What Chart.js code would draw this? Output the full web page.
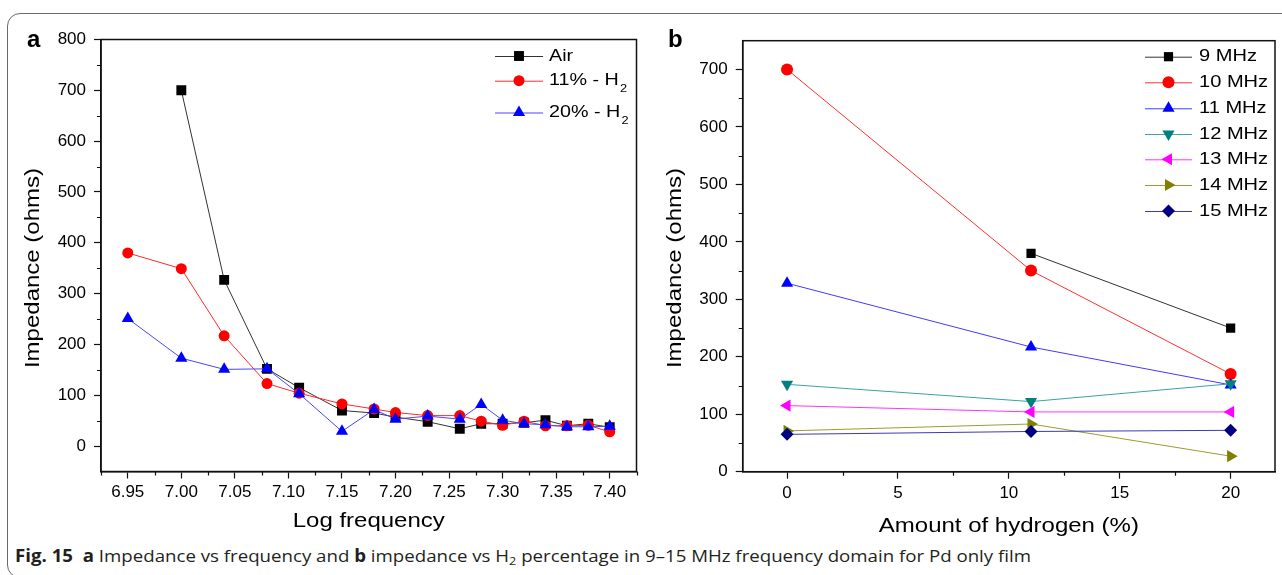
<!DOCTYPE html>
<html>
<head>
<meta charset="utf-8">
<script src="https://cdn.jsdelivr.net/npm/chart.js@4/dist/chart.umd.min.js"></script>
<style>
  html, body { margin:0; padding:0; background:#fff; }
  body { width:1282px; height:575px; overflow:hidden; position:relative; }
  #frame { position:absolute; left:7px; top:13px; width:1300px; height:565px; border:1px solid #6a6a6a; border-radius:13px; box-sizing:border-box; }
  #ca { position:absolute; left:0; top:0; }
  #cb { position:absolute; left:640px; top:0; }
  #cap { position:absolute; left:15px; top:546px; font-family:'Open Sans', 'Noto Sans', sans-serif; font-size:17px; line-height:20px; color:#231f20; white-space:nowrap; transform-origin:0 0; }
  #cap sub { font-size:11.5px; vertical-align:-3px; line-height:0; }
</style>
</head>
<body>
<div id="frame"></div>
<canvas id="ca" width="660" height="540"></canvas>
<canvas id="cb" width="642" height="540"></canvas>
<div id="cap"><b>Fig. 15</b>&nbsp; <b>a</b> Impedance vs frequency and <b>b</b> impedance vs H<sub>2</sub> percentage in 9–15 MHz frequency domain for Pd only film</div>
<script>
// ---------- Panel a data ----------
const aX       = [6.95, 7.00, 7.04, 7.08, 7.11, 7.15, 7.18, 7.20, 7.23, 7.26, 7.28, 7.30, 7.32, 7.34, 7.36, 7.38, 7.40];
const airY     = [null, 700, 327, 152, 115, 70, 65, 57, 48, 34, 44, 44, 46, 51, 40, 44, 37];
const h11Y     = [380, 349, 217, 123, 104, 83, 73, 66, 60, 60, 49, 41, 49, 40, 40, 41, 28];
const h20Y     = [251, 173, 151, 152, 103, 29, 72, 53, 59, 53, 82, 51, 44, 42, 38, 38, 39];
const aNames   = ['Air', '11% - H_2', '20% - H_2'];
const aXTicks  = [6.95, 7.00, 7.05, 7.10, 7.15, 7.20, 7.25, 7.30, 7.35, 7.40];
const aXLabels = ['6.95', '7.00', '7.05', '7.10', '7.15', '7.20', '7.25', '7.30', '7.35', '7.40'];
const aXMinor  = [6.925, 6.975, 7.025, 7.075, 7.125, 7.175, 7.225, 7.275, 7.325, 7.375, 7.425];
const aYTicks  = [0, 100, 200, 300, 400, 500, 600, 700, 800];
const aYMinor  = [50, 150, 250, 350, 450, 550, 650, 750];

// ---------- Panel b data ----------
const bX       = [0, 11, 20];
const mhz9     = [null, 380, 250];
const mhz10    = [700, 350, 170];
const mhz11    = [328, 217, 151];
const mhz12    = [152, 122, 153];
const mhz13    = [115, 104, 104];
const mhz14    = [71, 83, 27];
const mhz15    = [65, 70, 72];
const bNames   = ['9 MHz', '10 MHz', '11 MHz', '12 MHz', '13 MHz', '14 MHz', '15 MHz'];
const bXTicks  = [0, 5, 10, 15, 20];
const bXMinor  = [2.5, 7.5, 12.5, 17.5];
const bYTicks  = [0, 100, 200, 300, 400, 500, 600, 700];
const bYMinor  = [50, 150, 250, 350, 450, 550, 650];

const FONT = "Arial, 'Liberation Sans', Helvetica, sans-serif";
Chart.defaults.font.family = FONT;
Chart.defaults.font.size = 17;
Chart.defaults.color = '#000';

function pts(xs, ys) { return xs.map((x, i) => ({ x: x, y: ys[i] })); }

function drawMarker(ctx, ds, x, y) {
  const opts = { pointStyle: ds.pointStyle, rotation: ds.pointRotation || 0, radius: ds.pointRadius, borderWidth: ds.pointBorderWidth || 0 };
  ctx.fillStyle = ds.pointBackgroundColor;
  ctx.strokeStyle = ds.pointBorderColor;
  ctx.lineWidth = opts.borderWidth;
  Chart.helpers.drawPoint(ctx, opts, x, y);
}

const decor = {
  id: 'decor',
  afterDatasetsDraw(chart, args, o) {
    const ctx = chart.ctx, ca = chart.chartArea;
    const xs = chart.scales.x, ys = chart.scales.y;
    ctx.save();
    ctx.strokeStyle = '#111'; ctx.lineWidth = 1.5;
    ctx.strokeRect(ca.left, ca.top, ca.right - ca.left, ca.bottom - ca.top);
    ctx.lineWidth = 1.2; ctx.beginPath();
    o.xMinor.forEach(v => { const p = Math.round(xs.getPixelForValue(v)) + 0.5; ctx.moveTo(p, ca.bottom); ctx.lineTo(p, ca.bottom + 4); });
    o.yMinor.forEach(v => { const p = Math.round(ys.getPixelForValue(v)) + 0.5; ctx.moveTo(ca.left, p); ctx.lineTo(ca.left - 4, p); });
    ctx.stroke();
    ctx.fillStyle = '#000';
    ctx.font = 'bold 24px ' + FONT; ctx.textAlign = 'left'; ctx.textBaseline = 'alphabetic';
    ctx.fillText(o.letter, o.letterX, o.letterY);
    ctx.font = '20px ' + FONT; ctx.textAlign = 'center'; ctx.textBaseline = 'middle';
    ctx.save(); ctx.translate((ca.left + ca.right) / 2, o.xTitleY); ctx.scale(1.2, 1); ctx.fillText(o.xTitle, 0, 0); ctx.restore();
    ctx.save(); ctx.translate(o.yTitleX, o.yTitleY); ctx.rotate(-Math.PI / 2); ctx.scale(1.2, 1); ctx.fillText(o.yTitle, 0, 0); ctx.restore();
    chart.data.datasets.forEach((ds, i) => {
      const y = o.legendY[i];
      ctx.strokeStyle = ds.borderColor; ctx.lineWidth = 1;
      ctx.beginPath(); ctx.moveTo(o.legendX0, y + 0.5); ctx.lineTo(o.legendX1, y + 0.5); ctx.stroke();
      drawMarker(ctx, ds, (o.legendX0 + o.legendX1) / 2, y);
      const parts = ds.label.split('_');
      ctx.fillStyle = '#000';
      ctx.save(); ctx.translate(o.legendTextX, y); ctx.scale(o.legendScale, 1);
      ctx.font = o.legendFont + 'px ' + FONT; ctx.textAlign = 'left'; ctx.textBaseline = 'middle';
      ctx.fillText(parts[0], 0, 0);
      if (parts[1]) {
        const w = ctx.measureText(parts[0]).width;
        ctx.font = '11px ' + FONT;
        ctx.fillText(parts[1], w + 1, 8);
      }
      ctx.restore();
    });
    ctx.restore();
  }
};

function axisCommon() {
  return {
    grid: { display: true, drawOnChartArea: false, drawTicks: true, tickLength: 7, tickColor: '#111', tickWidth: 1.2 },
    border: { display: true, color: '#111', width: 1.5 }
  };
}

function line(label, xs, ys, color, lineColor, style, radius, rot, order) {
  return {
    label: label, data: pts(xs, ys), borderColor: lineColor, borderWidth: 1,
    pointStyle: style, pointRadius: radius, pointRotation: rot || 0,
    pointBackgroundColor: color, pointBorderColor: color, pointBorderWidth: 0,
    pointHoverRadius: radius, tension: 0, spanGaps: false, order: order
  };
}

new Chart(document.getElementById('ca'), {
  type: 'line',
  data: {
    datasets: [
      line(aNames[0], aX, airY, '#000000', '#333333', 'rect', 7, 0, 3),
      line(aNames[1], aX, h11Y, '#ff0000', '#ff2a2a', 'circle', 5.5, 0, 2),
      line(aNames[2], aX, h20Y, '#0000ff', '#4646ff', 'triangle', 7, 0, 1)
    ]
  },
  options: {
    responsive: false, animation: false, devicePixelRatio: 1,
    layout: { padding: { left: 0, top: 39.5, right: 23.5, bottom: 0 } },
    plugins: {
      legend: { display: false }, tooltip: { enabled: false },
      decor: {
        letter: 'a', letterX: 27, letterY: 47,
        xTitle: 'Log frequency', xTitleY: 521,
        yTitle: 'Impedance (ohms)', yTitleX: 33.5, yTitleY: 268,
        xMinor: aXMinor, yMinor: aYMinor,
        legendX0: 495, legendX1: 543, legendTextX: 549, legendY: [56, 80.7, 112.5],
        legendFont: 17, legendScale: 1.16
      }
    },
    scales: {
      x: Object.assign(axisCommon(), {
        type: 'linear', min: 6.925, max: 7.425,
        afterBuildTicks: s => { s.ticks = aXTicks.map(v => ({ value: v })); },
        afterFit: s => { s.height = 540 - 471.5; },
        ticks: { autoSkip: false, padding: 4, maxRotation: 0, callback: (v, i) => aXLabels[i] }
      }),
      y: Object.assign(axisCommon(), {
        type: 'linear', min: -50, max: 800,
        afterBuildTicks: s => { s.ticks = aYTicks.map(v => ({ value: v })); },
        afterFit: s => { s.width = 101; },
        ticks: { autoSkip: false, padding: 8, callback: v => String(v) }
      })
    }
  },
  plugins: [decor]
});

new Chart(document.getElementById('cb'), {
  type: 'line',
  data: {
    datasets: [
      line(bNames[0], bX, mhz9,  '#000000', '#333333', 'rect', 6.5, 0, 7),
      line(bNames[1], bX, mhz10, '#ff0000', '#ff3030', 'circle', 6, 0, 6),
      line(bNames[2], bX, mhz11, '#0000ff', '#3c3cff', 'triangle', 7, 0, 5),
      line(bNames[3], bX, mhz12, '#008080', '#3aa3a3', 'triangle', 7, 180, 4),
      line(bNames[4], bX, mhz13, '#ff00ff', '#ff33ff', 'triangle', 7, 270, 3),
      line(bNames[5], bX, mhz14, '#808000', '#9c9c30', 'triangle', 7, 90, 2),
      line(bNames[6], bX, mhz15, '#000080', '#3a3ab0', 'rectRot', 6.5, 0, 1)
    ]
  },
  options: {
    responsive: false, animation: false, devicePixelRatio: 1,
    layout: { padding: { left: 0, top: 40.7, right: 3.3, bottom: 0 } },
    plugins: {
      legend: { display: false }, tooltip: { enabled: false },
      decor: {
        letter: 'b', letterX: 28, letterY: 47,
        xTitle: 'Amount of hydrogen (%)', xTitleY: 526,
        yTitle: 'Impedance (ohms)', yTitleX: 35, yTitleY: 268,
        xMinor: bXMinor, yMinor: bYMinor,
        legendX0: 505, legendX1: 552, legendTextX: 559, legendY: [56.7, 82.3, 108.3, 134, 159.3, 185, 211],
        legendFont: 17, legendScale: 1.18
      }
    },
    scales: {
      x: Object.assign(axisCommon(), {
        type: 'linear', min: -2, max: 22,
        afterBuildTicks: s => { s.ticks = bXTicks.map(v => ({ value: v })); },
        afterFit: s => { s.height = 540 - 471.7; },
        ticks: { autoSkip: false, padding: 4, maxRotation: 0, callback: v => String(v) }
      }),
      y: Object.assign(axisCommon(), {
        type: 'linear', min: 0, max: 750,
        afterBuildTicks: s => { s.ticks = bYTicks.map(v => ({ value: v })); },
        afterFit: s => { s.width = 102.7; },
        ticks: { autoSkip: false, padding: 8, callback: v => String(v) }
      })
    }
  },
  plugins: [decor]
});

(function () {
  const cap = document.getElementById('cap');
  const w = cap.getBoundingClientRect().width;
  if (w > 0) cap.style.transform = 'scaleX(' + (1016 / w).toFixed(4) + ')';
})();
</script>
</body>
</html>
